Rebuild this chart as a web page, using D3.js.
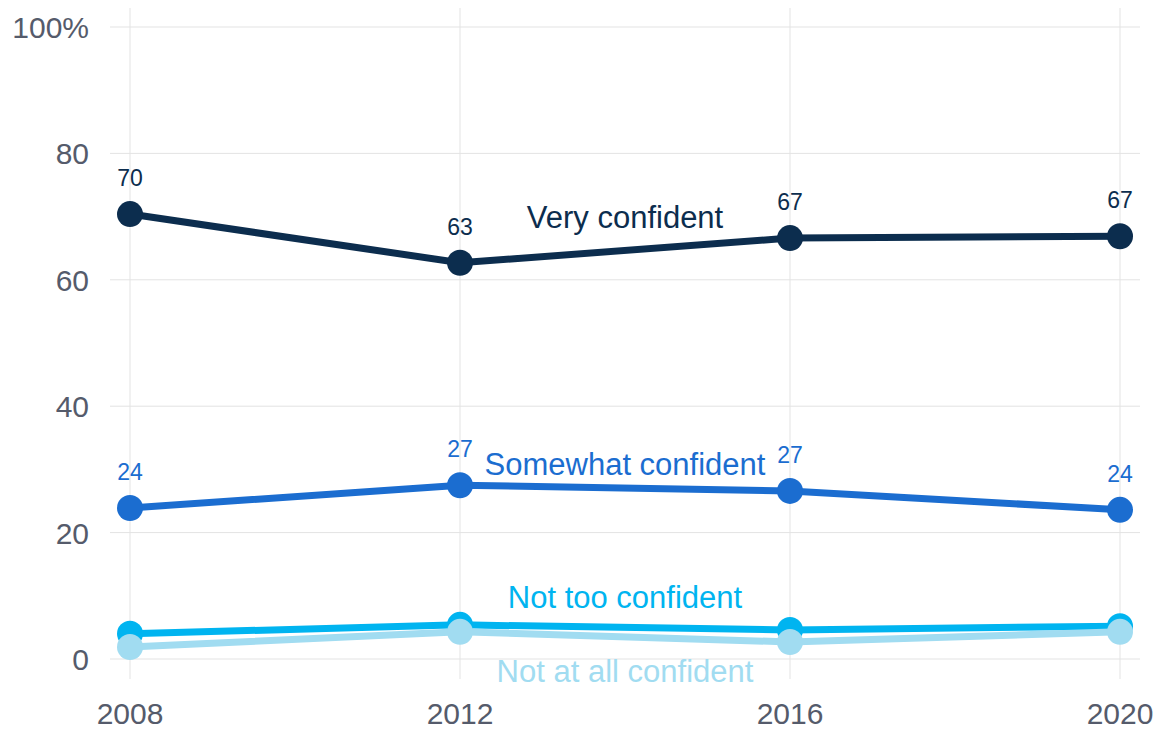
<!DOCTYPE html>
<html><head><meta charset="utf-8">
<script src="https://cdn.jsdelivr.net/npm/d3@7"></script>
<style>body{margin:0;background:#fff;font-family:Arial,"Liberation Sans",sans-serif;}</style>
</head><body>
<svg id="chart" width="1161" height="731"></svg>
<script>
const years = [2008, 2012, 2016, 2020];
const veryConfident = [70.4, 62.7, 66.6, 66.9];
const somewhatConfident = [23.9, 27.5, 26.6, 23.6];
const notTooConfident = [4.0, 5.4, 4.6, 5.2];
const notAtAllConfident = [1.9, 4.3, 2.7, 4.3];
const veryLabels = ["70", "63", "67", "67"];
const somewhatLabels = ["24", "27", "27", "24"];
const yTicks = [0, 20, 40, 60, 80, 100];
const seriesNames = ["Very confident", "Somewhat confident", "Not too confident", "Not at all confident"];

const svg = d3.select("#chart");
const x = d3.scalePoint().domain(years).range([130, 1120]);
const y = d3.scaleLinear().domain([0, 100]).range([659, 27]);

// grid
svg.append("g").selectAll("line").data(yTicks).join("line")
  .attr("x1", 110).attr("x2", 1140)
  .attr("y1", d => y(d)).attr("y2", d => y(d))
  .attr("stroke", "#e3e3e3").attr("stroke-width", 1);
svg.append("g").selectAll("line").data(years).join("line")
  .attr("x1", d => x(d)).attr("x2", d => x(d))
  .attr("y1", 8).attr("y2", 679)
  .attr("stroke", "#e3e3e3").attr("stroke-width", 1);

// y axis labels
svg.append("g").selectAll("text").data(yTicks).join("text")
  .attr("x", 89).attr("y", d => y(d) + 11)
  .attr("text-anchor", "end").attr("font-size", 30).attr("fill", "#555b6b")
  .text(d => d === 100 ? "100%" : d);
// x axis labels
svg.append("g").selectAll("text").data(years).join("text")
  .attr("x", d => x(d)).attr("y", 724)
  .attr("text-anchor", "middle").attr("font-size", 30).attr("fill", "#555b6b")
  .text(d => d);

const series = [
  {name: seriesNames[2], vals: notTooConfident, color: "#00b4f0", labels: null, lx: 625, ly: 608},
  {name: seriesNames[3], vals: notAtAllConfident, color: "#a1dcf1", labels: null, lx: 625, ly: 682},
  {name: seriesNames[1], vals: somewhatConfident, color: "#1b6dd0", labels: somewhatLabels, lx: 625, ly: 475},
  {name: seriesNames[0], vals: veryConfident, color: "#0c2d4e", labels: veryLabels, lx: 625, ly: 228}
];

const line = d3.line().x((d, i) => x(years[i])).y(d => y(d));
series.forEach(s => {
  const g = svg.append("g");
  g.append("path").attr("d", line(s.vals)).attr("fill", "none")
    .attr("stroke", s.color).attr("stroke-width", 7);
  g.selectAll("circle").data(s.vals).join("circle")
    .attr("cx", (d, i) => x(years[i])).attr("cy", d => y(d)).attr("r", 13)
    .attr("fill", s.color);
  if (s.labels) {
    g.selectAll("text.v").data(s.vals).join("text").attr("class", "v")
      .attr("x", (d, i) => x(years[i])).attr("y", d => y(d) - 28)
      .attr("text-anchor", "middle").attr("font-size", 23).attr("fill", s.color)
      .text((d, i) => s.labels[i]);
  }
  g.append("text").attr("x", s.lx).attr("y", s.ly).attr("text-anchor", "middle")
    .attr("font-size", 31).attr("fill", s.color).text(s.name);
});
</script>
</body></html>
